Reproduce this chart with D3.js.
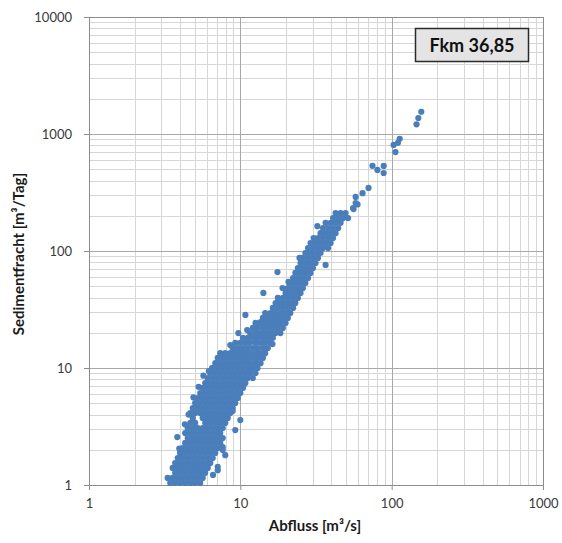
<!DOCTYPE html>
<html>
<head>
<meta charset="utf-8">
<script src="https://cdn.jsdelivr.net/npm/d3@7"></script>
<style>
  html, body { margin: 0; padding: 0; background: #ffffff; }
  svg { display: block; }
</style>
</head>
<body>
<svg id="chart" width="562" height="543"></svg>
<script>
// ---- Data ----
const xTicks = [1, 10, 100, 1000];
const yTicks = [1, 10, 100, 1000, 10000];
const xTitle = "Abfluss [m³/s]";
const yTitle = "Sedimentfracht [m³/Tag]";
const labelText = "Fkm 36,85";

// Sediment load levels (m³/Tag) of the dense band, and the discharge values seen at each level
const frachtStufen = [1.04, 1.15, 1.27, 1.40, 1.54, 1.70, 1.88, 2.07, 2.29, 2.52, 2.78, 3.07, 3.39, 3.74, 4.12, 4.55, 5.02, 5.54, 6.11, 6.75, 7.44, 8.21, 9.06, 10.0, 11.0, 12.2, 13.4, 14.8, 16.4, 18.1, 19.9, 22.0, 24.3, 26.8, 29.5, 32.6, 35.9, 39.7, 43.8, 48.3, 53.3, 58.8, 64.9, 71.6, 79.0, 87.2, 96.1, 106, 117, 129, 142, 157, 174, 191, 211, 233, 257];
const abflussJeStufe = [
  [3.44, 3.71, 4.01, 4.32, 4.67, 5.03, 5.43],
  [3.31, 3.57, 3.86, 4.16, 4.49, 4.85, 5.23, 5.64],
  [3.71, 4.01, 4.32, 4.67, 5.03, 5.43, 5.86],
  [3.57, 3.86, 4.16, 4.49, 4.85, 5.23, 5.64, 6.09],
  [3.71, 4.01, 4.32, 4.67, 5.03, 5.43, 5.86, 6.33],
  [3.86, 4.16, 4.49, 4.85, 5.23, 5.64, 6.09, 6.57],
  [4.01, 4.32, 4.67, 5.03, 5.43, 5.86, 6.33, 6.83],
  [4.16, 4.49, 4.85, 5.23, 5.64, 6.09, 6.57, 7.09],
  [4.32, 4.67, 5.03, 5.43, 5.86, 6.33, 6.83, 7.37],
  [4.49, 4.85, 5.23, 5.64, 6.09, 6.57, 7.09, 7.65],
  [4.32, 4.67, 5.03, 5.43, 5.86, 6.33, 6.83, 7.37],
  [4.49, 4.85, 5.23, 5.64, 6.09, 6.57, 7.09, 7.65],
  [4.67, 5.03, 5.86, 6.33, 6.83, 7.37, 7.95],
  [4.85, 5.64, 6.09, 6.57, 7.09, 7.65, 8.26],
  [4.67, 5.03, 5.43, 5.86, 6.33, 6.83, 7.37, 7.95, 8.58],
  [4.85, 5.23, 5.64, 6.09, 6.57, 7.09, 7.65, 8.26, 8.91],
  [5.03, 5.43, 5.86, 6.33, 6.83, 7.37, 7.95, 8.58, 9.26],
  [5.23, 5.64, 6.09, 6.57, 7.09, 7.65, 8.26, 8.91, 9.62],
  [5.43, 5.86, 6.33, 6.83, 7.37, 7.95, 8.58, 9.26, 10.0],
  [5.64, 6.09, 6.57, 7.09, 7.65, 8.26, 8.91, 9.62, 10.4],
  [5.86, 6.33, 6.83, 7.37, 7.95, 8.58, 9.26, 10.0, 10.8],
  [6.09, 6.57, 7.09, 7.65, 8.26, 8.91, 9.62, 10.4, 11.2, 12.1],
  [6.33, 6.83, 7.37, 7.95, 8.58, 9.26, 10.0, 10.8, 11.6, 12.6],
  [6.57, 7.09, 7.65, 8.26, 8.91, 9.62, 10.4, 11.2, 12.1, 13.0],
  [6.83, 7.37, 7.95, 8.58, 9.26, 10.0, 10.8, 11.6, 12.6, 13.6],
  [7.09, 7.65, 8.26, 8.91, 9.62, 10.4, 11.2, 12.1, 13.0, 14.1],
  [7.37, 7.95, 8.58, 9.26, 10.0, 10.8, 11.6, 12.6, 13.6, 14.6],
  [8.91, 9.62, 10.4, 11.2, 12.1, 13.0, 14.1, 15.2],
  [9.26, 10.0, 10.8, 11.6, 12.6, 13.6, 14.6, 15.8],
  [10.4, 11.2, 12.1, 13.0, 14.1, 15.2, 16.4],
  [11.6, 12.6, 13.6, 14.6, 15.8, 17.1, 18.4],
  [12.1, 13.0, 14.1, 15.2, 16.4, 17.7, 19.1],
  [12.6, 13.6, 14.6, 15.8, 17.1, 18.4, 19.9],
  [14.1, 15.2, 16.4, 17.7, 19.1, 20.6],
  [14.6, 15.8, 17.1, 18.4, 19.9, 21.4],
  [16.4, 17.7, 19.1, 20.6, 22.3],
  [17.1, 18.4, 19.9, 21.4, 23.1],
  [17.7, 19.1, 20.6, 22.3, 24.0],
  [19.9, 21.4, 23.1, 25.0],
  [20.6, 22.3, 24.0, 25.9],
  [21.4, 23.1, 25.0, 26.9],
  [22.3, 24.0, 25.9, 28.0],
  [23.1, 25.0, 26.9, 29.1],
  [24.0, 25.9, 28.0, 30.2],
  [25.0, 26.9, 29.1, 31.4],
  [25.9, 28.0, 30.2, 32.6],
  [26.9, 29.1, 31.4, 33.9],
  [28.0, 30.2, 32.6, 35.2, 38.0],
  [29.1, 31.4, 33.9, 36.6, 39.5],
  [32.6, 35.2, 38.0, 41.0],
  [33.9, 36.6, 39.5, 42.6],
  [35.2, 38.0, 41.0, 44.3],
  [36.6, 39.5, 42.6, 46.0],
  [41.0, 44.3, 47.8, 51.5],
  [42.6, 46.0, 49.6],
  [55.6],
  [57.8]
];

// Scattered single measurements outside the dense band
const einzelAbfluss = [3.83, 4.01, 7.65, 7.95, 7.09, 6.6, 7.65, 7.09, 10.0, 9.26,
  3.95, 4.3, 4.55, 4.9, 5.3, 5.7, 6.2, 8.9, 9.6, 10.5, 11.5, 12.4, 13.3, 16.3, 17.0,
  6.5, 7.37, 8.3, 8.58, 9.7, 10.8, 11.1, 13.6, 14.2, 17.6, 19.0, 20.8, 24.6, 30.5, 32.3, 36.6,
  57.8, 59.5, 56.0, 64.2, 70.3, 74.7, 80.5, 88.6, 88.5, 103, 106, 110, 113, 146, 150, 157];
const einzelFracht = [2.57, 1.88, 2.11, 1.80, 1.43, 1.22, 1.99, 1.34, 3.59, 2.95,
  2.05, 3.3, 4.0, 5.6, 6.9, 8.6, 9.4, 4.3, 6.0, 7.1, 9.3, 10.3, 12.5, 16.0, 22.8,
  10.0, 10.6, 12.9, 15.7, 19.9, 28.4, 21.1, 24.7, 43.8, 66, 48.3, 54.4, 87.2, 129, 163, 76,
  290, 250, 228, 312, 346, 535, 493, 533, 464, 806, 700, 840, 910, 1210, 1370, 1550];

// ---- Build point table ----
const points = [];
frachtStufen.forEach((s, i) => abflussJeStufe[i].forEach(q => points.push({q, s})));
einzelAbfluss.forEach((q, i) => points.push({q, s: einzelFracht[i]}));

// ---- Layout ----
const svg = d3.select("#chart");
const margin = {left: 89, top: 17, right: 19, bottom: 58};
const W = 562, H = 543;
const pw = W - margin.left - margin.right;
const ph = H - margin.top - margin.bottom;

const x = d3.scaleLog().domain([1, 1000]).range([margin.left, margin.left + pw]);
const y = d3.scaleLog().domain([1, 10000]).range([margin.top + ph, margin.top]);

const font = "Lato, 'Open Sans', 'Liberation Sans', sans-serif";

// Minor gridlines
const minorX = [];
for (let d = 1; d < 1000; d *= 10) for (let k = 2; k <= 9; k++) minorX.push(d * k);
const minorY = [];
for (let d = 1; d < 10000; d *= 10) for (let k = 2; k <= 9; k++) minorY.push(d * k);

const grid = svg.append("g");
grid.selectAll("line.mx").data(minorX).enter().append("line")
  .attr("x1", d => Math.round(x(d)) + 0.5).attr("x2", d => Math.round(x(d)) + 0.5)
  .attr("y1", margin.top).attr("y2", margin.top + ph)
  .attr("stroke", "#d6d6d6").attr("stroke-width", 1);
grid.selectAll("line.my").data(minorY).enter().append("line")
  .attr("y1", d => Math.round(y(d)) + 0.5).attr("y2", d => Math.round(y(d)) + 0.5)
  .attr("x1", margin.left).attr("x2", margin.left + pw)
  .attr("stroke", "#d6d6d6").attr("stroke-width", 1);
// Major gridlines
grid.selectAll("line.Mx").data(xTicks).enter().append("line")
  .attr("x1", d => Math.round(x(d)) + 0.5).attr("x2", d => Math.round(x(d)) + 0.5)
  .attr("y1", margin.top).attr("y2", margin.top + ph)
  .attr("stroke", "#a8a8a8").attr("stroke-width", 1);
grid.selectAll("line.My").data(yTicks).enter().append("line")
  .attr("y1", d => Math.round(y(d)) + 0.5).attr("y2", d => Math.round(y(d)) + 0.5)
  .attr("x1", margin.left).attr("x2", margin.left + pw)
  .attr("stroke", "#a8a8a8").attr("stroke-width", 1);

// Plot border
svg.append("rect")
  .attr("x", margin.left + 0.5).attr("y", margin.top + 0.5)
  .attr("width", pw).attr("height", ph)
  .attr("fill", "none").attr("stroke", "#8c8c8c").attr("stroke-width", 1);

// Axes
const xAxis = d3.axisBottom(x).tickValues(xTicks).tickFormat(d3.format("d")).tickSizeOuter(0).tickSize(5).tickPadding(9);
const yAxis = d3.axisLeft(y).tickValues(yTicks).tickFormat(d3.format("d")).tickSizeOuter(0).tickSize(5).tickPadding(12);

const gx = svg.append("g").attr("transform", `translate(0,${margin.top + ph})`).call(xAxis);
const gy = svg.append("g").attr("transform", `translate(${margin.left},0)`).call(yAxis);
[gx, gy].forEach(g => {
  g.select(".domain").remove();
  g.selectAll(".tick line").attr("stroke", "#8c8c8c");
  g.selectAll(".tick text").attr("fill", "#3a3a3a").style("font-family", font).style("font-size", "13px");
});

// Points
svg.append("clipPath").attr("id", "clip").append("rect")
  .attr("x", margin.left).attr("y", margin.top).attr("width", pw + 1).attr("height", ph + 1);
svg.append("g").attr("clip-path", "url(#clip)")
  .selectAll("circle").data(points).enter().append("circle")
  .attr("cx", d => x(d.q)).attr("cy", d => y(d.s)).attr("r", 3.1)
  .attr("fill", "#4a7ebb");

// Axis titles
svg.append("text")
  .attr("x", 315).attr("y", 531)
  .attr("text-anchor", "middle")
  .style("font-family", font).style("font-size", "15px").style("font-weight", "bold")
  .attr("fill", "#1a1a1a").text(xTitle);
svg.append("text")
  .attr("transform", `translate(24,${margin.top + ph / 2 + 3}) rotate(-90)`)
  .attr("text-anchor", "middle")
  .style("font-family", font).style("font-size", "15px").style("font-weight", "bold")
  .attr("fill", "#1a1a1a").text(yTitle);

// Label box
const lb = svg.append("g");
lb.append("rect").attr("x", 415.5).attr("y", 28.5).attr("width", 113).attr("height", 33)
  .attr("fill", "#e4e4e4").attr("stroke", "#2a2a2a").attr("stroke-width", 1.5);
lb.append("text").attr("x", 472).attr("y", 51.5).attr("text-anchor", "middle")
  .style("font-family", font).style("font-size", "18px").style("font-weight", "bold")
  .attr("fill", "#111").text(labelText);
</script>
</body>
</html>
